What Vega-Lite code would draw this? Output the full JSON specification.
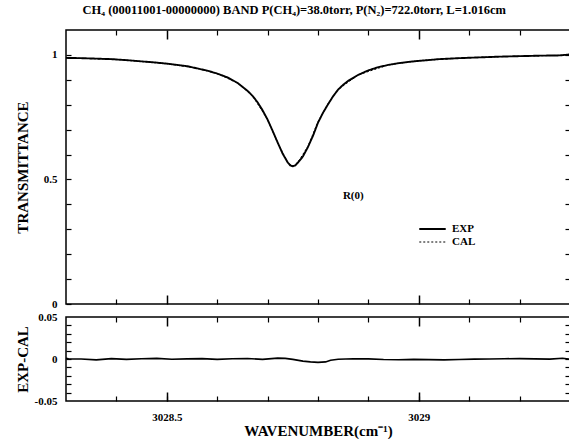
{
  "$schema": "https://vega.github.io/schema/vega-lite/v6.json",
  "padding": {"left": 14, "top": 4, "right": 0, "bottom": 0},
  "background": "white",
  "title": {
    "text": "CH₄ (00011001-00000000) BAND P(CH₄)=38.0torr, P(N₂)=722.0torr, L=1.016cm",
    "font": "Liberation Serif",
    "fontWeight": "bold",
    "fontSize": 12.5,
    "color": "black",
    "anchor": "middle",
    "offset": 12
  },
  "config": {
    "view": {"stroke": "black", "strokeWidth": 1.5},
    "axis": {
      "domain": false,
      "grid": false,
      "tickColor": "black",
      "tickWidth": 1.2,
      "tickSize": -5,
      "labelFont": "Liberation Serif",
      "labelFontWeight": "bold",
      "labelFontSize": 11,
      "labelColor": "black",
      "titleFont": "Liberation Serif",
      "titleFontWeight": "bold",
      "titleFontSize": 15,
      "titleColor": "black"
    },
    "legend": {
      "labelFont": "Liberation Serif",
      "labelFontWeight": "bold",
      "labelFontSize": 11,
      "labelColor": "black"
    }
  },
  "datasets": {
    "trans": [
      {"wn": 3028.30, "series": "EXP", "t": 0.988},
      {"wn": 3028.33, "series": "EXP", "t": 0.987},
      {"wn": 3028.36, "series": "EXP", "t": 0.985},
      {"wn": 3028.39, "series": "EXP", "t": 0.983},
      {"wn": 3028.42, "series": "EXP", "t": 0.979},
      {"wn": 3028.45, "series": "EXP", "t": 0.974},
      {"wn": 3028.48, "series": "EXP", "t": 0.969},
      {"wn": 3028.50, "series": "EXP", "t": 0.965},
      {"wn": 3028.52, "series": "EXP", "t": 0.960},
      {"wn": 3028.54, "series": "EXP", "t": 0.955},
      {"wn": 3028.56, "series": "EXP", "t": 0.946},
      {"wn": 3028.58, "series": "EXP", "t": 0.937},
      {"wn": 3028.60, "series": "EXP", "t": 0.925},
      {"wn": 3028.62, "series": "EXP", "t": 0.910},
      {"wn": 3028.64, "series": "EXP", "t": 0.888},
      {"wn": 3028.66, "series": "EXP", "t": 0.856},
      {"wn": 3028.67, "series": "EXP", "t": 0.836},
      {"wn": 3028.68, "series": "EXP", "t": 0.810},
      {"wn": 3028.69, "series": "EXP", "t": 0.778},
      {"wn": 3028.70, "series": "EXP", "t": 0.740},
      {"wn": 3028.71, "series": "EXP", "t": 0.695},
      {"wn": 3028.72, "series": "EXP", "t": 0.648},
      {"wn": 3028.73, "series": "EXP", "t": 0.603},
      {"wn": 3028.74, "series": "EXP", "t": 0.568},
      {"wn": 3028.745, "series": "EXP", "t": 0.556},
      {"wn": 3028.75, "series": "EXP", "t": 0.553},
      {"wn": 3028.755, "series": "EXP", "t": 0.556},
      {"wn": 3028.76, "series": "EXP", "t": 0.567},
      {"wn": 3028.77, "series": "EXP", "t": 0.592},
      {"wn": 3028.78, "series": "EXP", "t": 0.630},
      {"wn": 3028.79, "series": "EXP", "t": 0.675},
      {"wn": 3028.80, "series": "EXP", "t": 0.728},
      {"wn": 3028.81, "series": "EXP", "t": 0.768},
      {"wn": 3028.82, "series": "EXP", "t": 0.802},
      {"wn": 3028.83, "series": "EXP", "t": 0.834},
      {"wn": 3028.84, "series": "EXP", "t": 0.861},
      {"wn": 3028.85, "series": "EXP", "t": 0.880},
      {"wn": 3028.86, "series": "EXP", "t": 0.896},
      {"wn": 3028.88, "series": "EXP", "t": 0.920},
      {"wn": 3028.90, "series": "EXP", "t": 0.938},
      {"wn": 3028.92, "series": "EXP", "t": 0.951},
      {"wn": 3028.94, "series": "EXP", "t": 0.960},
      {"wn": 3028.96, "series": "EXP", "t": 0.967},
      {"wn": 3028.98, "series": "EXP", "t": 0.972},
      {"wn": 3029.00, "series": "EXP", "t": 0.976},
      {"wn": 3029.04, "series": "EXP", "t": 0.983},
      {"wn": 3029.08, "series": "EXP", "t": 0.987},
      {"wn": 3029.12, "series": "EXP", "t": 0.990},
      {"wn": 3029.16, "series": "EXP", "t": 0.993},
      {"wn": 3029.20, "series": "EXP", "t": 0.995},
      {"wn": 3029.24, "series": "EXP", "t": 0.997},
      {"wn": 3029.28, "series": "EXP", "t": 0.998},
      {"wn": 3029.30, "series": "EXP", "t": 1.002},
      {"wn": 3028.30, "series": "CAL", "t": 0.988},
      {"wn": 3028.40, "series": "CAL", "t": 0.982},
      {"wn": 3028.50, "series": "CAL", "t": 0.965},
      {"wn": 3028.56, "series": "CAL", "t": 0.946},
      {"wn": 3028.60, "series": "CAL", "t": 0.925},
      {"wn": 3028.64, "series": "CAL", "t": 0.888},
      {"wn": 3028.67, "series": "CAL", "t": 0.836},
      {"wn": 3028.70, "series": "CAL", "t": 0.740},
      {"wn": 3028.72, "series": "CAL", "t": 0.647},
      {"wn": 3028.74, "series": "CAL", "t": 0.568},
      {"wn": 3028.75, "series": "CAL", "t": 0.554},
      {"wn": 3028.76, "series": "CAL", "t": 0.569},
      {"wn": 3028.78, "series": "CAL", "t": 0.633},
      {"wn": 3028.80, "series": "CAL", "t": 0.732},
      {"wn": 3028.82, "series": "CAL", "t": 0.805},
      {"wn": 3028.84, "series": "CAL", "t": 0.861},
      {"wn": 3028.88, "series": "CAL", "t": 0.920},
      {"wn": 3028.94, "series": "CAL", "t": 0.960},
      {"wn": 3029.00, "series": "CAL", "t": 0.977},
      {"wn": 3029.10, "series": "CAL", "t": 0.989},
      {"wn": 3029.20, "series": "CAL", "t": 0.995},
      {"wn": 3029.30, "series": "CAL", "t": 0.999}
    ],
    "resid": [
      {"wn": 3028.30, "r": 0.0008},
      {"wn": 3028.305, "r": 0.0002},
      {"wn": 3028.33, "r": 0.0000},
      {"wn": 3028.36, "r": -0.0010},
      {"wn": 3028.39, "r": 0.0005},
      {"wn": 3028.42, "r": -0.0005},
      {"wn": 3028.45, "r": 0.0003},
      {"wn": 3028.48, "r": 0.0008},
      {"wn": 3028.51, "r": -0.0003},
      {"wn": 3028.54, "r": 0.0002},
      {"wn": 3028.57, "r": 0.0005},
      {"wn": 3028.60, "r": -0.0004},
      {"wn": 3028.63, "r": 0.0003},
      {"wn": 3028.66, "r": 0.0006},
      {"wn": 3028.69, "r": -0.0005},
      {"wn": 3028.72, "r": 0.0010},
      {"wn": 3028.735, "r": 0.0008},
      {"wn": 3028.75, "r": -0.0005},
      {"wn": 3028.77, "r": -0.0025},
      {"wn": 3028.785, "r": -0.0035},
      {"wn": 3028.80, "r": -0.0040},
      {"wn": 3028.815, "r": -0.0035},
      {"wn": 3028.825, "r": -0.0015},
      {"wn": 3028.84, "r": -0.0003},
      {"wn": 3028.87, "r": 0.0003},
      {"wn": 3028.90, "r": 0.0002},
      {"wn": 3028.93, "r": -0.0006},
      {"wn": 3028.96, "r": -0.0009},
      {"wn": 3028.99, "r": -0.0005},
      {"wn": 3029.02, "r": -0.0007},
      {"wn": 3029.05, "r": -0.0010},
      {"wn": 3029.08, "r": -0.0006},
      {"wn": 3029.11, "r": -0.0002},
      {"wn": 3029.14, "r": 0.0000},
      {"wn": 3029.17, "r": 0.0003},
      {"wn": 3029.20, "r": 0.0004},
      {"wn": 3029.23, "r": 0.0001},
      {"wn": 3029.26, "r": -0.0002},
      {"wn": 3029.285, "r": 0.0009},
      {"wn": 3029.30, "r": -0.0002}
    ],
    "label": [
      {"wn": 3028.87, "t": 0.435, "text": "R(0)"}
    ]
  },
  "spacing": 0,
  "vconcat": [
    {
      "width": 504,
      "height": 274,
      "resolve": {"axis": {"x": "independent", "y": "independent"}},
      "layer": [
        {
          "data": {"name": "trans"},
          "mark": {"type": "line", "color": "black", "clip": true},
          "encoding": {
            "x": {
              "field": "wn", "type": "quantitative",
              "scale": {"domain": [3028.3, 3029.3], "nice": false, "zero": false},
              "axis": {"orient": "bottom", "title": null, "labels": false,
                       "values": [3028.4, 3028.6, 3028.7, 3028.8, 3028.9, 3029.1, 3029.2]}
            },
            "y": {
              "field": "t", "type": "quantitative",
              "scale": {"domain": [0, 1.1], "nice": false},
              "axis": {"title": "TRANSMITTANCE", "titleX": -44, "titleY": 137, "titleAngle": 270,
                       "titleAlign": "center", "titleBaseline": "middle", "labelPadding": 14,
                       "values": [0, 0.1, 0.2, 0.3, 0.4, 0.5, 0.6, 0.7, 0.8, 0.9, 1],
                       "labelExpr": "datum.value == 0 ? '0' : (datum.value == 0.5 ? '0.5' : (datum.value == 1 ? '1' : ''))"}
            },
            "strokeDash": {
              "field": "series", "type": "nominal",
              "scale": {"domain": ["EXP", "CAL"], "range": [[1, 0], [2, 2]]},
              "legend": {"title": null, "orient": "none", "legendX": 352, "legendY": 193,
                         "symbolType": "stroke", "symbolSize": 700, "symbolStrokeColor": "black",
                         "symbolStrokeWidth": 1.5, "rowPadding": 1, "clipHeight": 12, "labelOffset": 5}
            },
            "strokeWidth": {
              "field": "series", "type": "nominal",
              "scale": {"domain": ["EXP", "CAL"], "range": [1.9, 1]},
              "legend": null
            }
          }
        },
        {
          "data": {"name": "label"},
          "mark": {"type": "text", "font": "Liberation Serif", "fontWeight": "bold", "fontSize": 11, "color": "black"},
          "encoding": {
            "x": {
              "field": "wn", "type": "quantitative",
              "axis": {"orient": "top", "title": null, "labels": false,
                       "values": [3028.4, 3028.6, 3028.7, 3028.8, 3028.9, 3029.1, 3029.2]}
            },
            "y": {
              "field": "t", "type": "quantitative",
              "axis": {"orient": "right", "title": null, "labels": false,
                       "values": [0.1, 0.2, 0.3, 0.4, 0.5, 0.6, 0.7, 0.8, 0.9, 1]}
            },
            "text": {"field": "text"}
          }
        },
        {
          "data": {"name": "label"},
          "mark": {"type": "text", "opacity": 0},
          "encoding": {
            "x": {
              "field": "wn", "type": "quantitative",
              "axis": {"orient": "bottom", "title": null, "labels": false, "tickSize": -9, "tickWidth": 1.5,
                       "values": [3028.5, 3029.0]}
            },
            "y": {"field": "t", "type": "quantitative", "axis": null},
            "text": {"field": "text"}
          }
        },
        {
          "data": {"name": "label"},
          "mark": {"type": "text", "opacity": 0},
          "encoding": {
            "x": {
              "field": "wn", "type": "quantitative",
              "axis": {"orient": "top", "title": null, "labels": false, "tickSize": -9, "tickWidth": 1.5,
                       "values": [3028.5, 3029.0]}
            },
            "y": {"field": "t", "type": "quantitative", "axis": null},
            "text": {"field": "text"}
          }
        }
      ]
    },
    {
      "width": 504,
      "height": 84,
      "resolve": {"axis": {"x": "independent", "y": "independent"}},
      "data": {"name": "resid"},
      "layer": [
        {
          "mark": {"type": "line", "color": "black", "strokeWidth": 1.7},
          "encoding": {
            "x": {
              "field": "wn", "type": "quantitative",
              "scale": {"domain": [3028.3, 3029.3], "nice": false, "zero": false},
              "axis": {"orient": "bottom", "title": "WAVENUMBER(cm⁻¹)", "labelPadding": 15, "titlePadding": 1,
                       "values": [3028.4, 3028.5, 3028.6, 3028.7, 3028.8, 3028.9, 3029.0, 3029.1, 3029.2],
                       "labelExpr": "datum.value == 3028.5 ? '3028.5' : (datum.value == 3029 ? '3029' : '')"}
            },
            "y": {
              "field": "r", "type": "quantitative",
              "scale": {"domain": [-0.05, 0.05], "nice": false},
              "axis": {"title": "EXP-CAL", "titleX": -44, "titleY": 42, "titleAngle": 270,
                       "titleAlign": "center", "titleBaseline": "middle", "labelPadding": 14,
                       "values": [-0.04, -0.03, -0.02, -0.01, 0, 0.01, 0.02, 0.03, 0.04],
                       "labelExpr": "datum.value == 0 ? '0' : ''"}
            }
          }
        },
        {
          "mark": {"type": "line", "opacity": 0},
          "encoding": {
            "x": {
              "field": "wn", "type": "quantitative",
              "axis": {"orient": "top", "title": null, "labels": false,
                       "values": [3028.4, 3028.6, 3028.7, 3028.8, 3028.9, 3029.1, 3029.2]}
            },
            "y": {
              "field": "r", "type": "quantitative",
              "axis": {"orient": "right", "title": null, "labels": false,
                       "values": [-0.04, -0.03, -0.02, -0.01, 0, 0.01, 0.02, 0.03, 0.04]}
            }
          }
        },
        {
          "mark": {"type": "line", "opacity": 0},
          "encoding": {
            "x": {
              "field": "wn", "type": "quantitative",
              "axis": {"orient": "top", "title": null, "labels": false, "tickSize": -9, "tickWidth": 1.5,
                       "values": [3028.5, 3029.0]}
            },
            "y": {
              "field": "r", "type": "quantitative",
              "axis": {"orient": "left", "title": null, "ticks": false, "labelPadding": 9,
                       "values": [-0.05, 0.05], "labelExpr": "datum.value > 0 ? '0.05' : '-0.05'"}
            }
          }
        },
        {
          "mark": {"type": "line", "opacity": 0},
          "encoding": {
            "x": {
              "field": "wn", "type": "quantitative",
              "axis": {"orient": "bottom", "title": null, "labels": false, "tickSize": -9, "tickWidth": 1.5,
                       "values": [3028.5, 3029.0]}
            },
            "y": {"field": "r", "type": "quantitative", "axis": null}
          }
        }
      ]
    }
  ]
}
